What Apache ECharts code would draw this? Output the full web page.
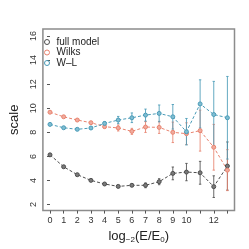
<!DOCTYPE html>
<html><head><meta charset="utf-8">
<script src="https://cdn.jsdelivr.net/npm/echarts@6/dist/echarts.min.js"></script>
<style>html,body{margin:0;padding:0;background:#fff}#c{width:249px;height:249px}</style>
</head><body><div id="c"></div>
<script>
const xValues = [0,1,2,3,4,5,6,7,8,9,10,11,12,13];
const xTickLabels = [0,1,2,3,4,5,6,7,8,9,10,12];
const yTickLabels = [2,4,6,8,10,12,14,16];
const seriesNames = ['full model','Wilks','W\u2013L'];
const fullModel = [6.13,5.14,4.48,4.01,3.71,3.51,3.60,3.60,3.90,4.59,4.70,4.64,3.49,5.20];
const fullModelErr = [0.05,0.05,0.05,0.05,0.06,0.07,0.1,0.2,0.25,0.53,0.72,0.95,0.9,2.0];
const wilks = [9.67,9.29,9.02,8.80,8.47,8.36,8.08,8.44,8.41,8.00,7.89,8.14,6.76,4.86];
const wilksErr = [0.05,0.05,0.06,0.08,0.1,0.25,0.25,0.45,0.5,0.85,0.9,1.7,1.9,1.7];
const wl = [8.66,8.38,8.25,8.36,8.74,9.02,9.21,9.43,9.57,9.29,8.05,10.36,9.48,9.21];
const wlErr = [0.05,0.05,0.06,0.08,0.15,0.3,0.4,0.5,0.7,1.02,1.1,2.0,2.75,3.43];

const colors = ['#4d4d4d','#e8836f','#4a9bb7'];
const fills = ['#7a7a7a','#f0ab9d','#7fbdd2'];
const all = [fullModel, wilks, wl];
const errs = [fullModelErr, wilksErr, wlErr];

const chart = echarts.init(document.getElementById('c'));
const series = [];
all.forEach((vals, i) => {
  series.push({
    type: 'custom', name: seriesNames[i] + '_err', silent: true, z: 2,
    data: xValues.map((x, k) => [x, vals[k] - errs[i][k], vals[k] + errs[i][k]]),
    renderItem: (params, api) => {
      const lo = api.coord([api.value(0), api.value(1)]);
      const hi = api.coord([api.value(0), api.value(2)]);
      const c = 1.2;
      return {type: 'group', children: [
        {type: 'line', shape: {x1: lo[0], y1: lo[1], x2: hi[0], y2: hi[1]}, style: {stroke: colors[i], lineWidth: 1, opacity: 0.85}},
        {type: 'line', shape: {x1: lo[0]-c, y1: lo[1], x2: lo[0]+c, y2: lo[1]}, style: {stroke: colors[i], lineWidth: 1, opacity: 0.85}},
        {type: 'line', shape: {x1: hi[0]-c, y1: hi[1], x2: hi[0]+c, y2: hi[1]}, style: {stroke: colors[i], lineWidth: 1, opacity: 0.85}}
      ]};
    }
  });
  series.push({
    type: 'line', name: seriesNames[i], z: 3,
    data: xValues.map((x, k) => [x, vals[k]]),
    symbol: 'circle', symbolSize: 4,
    lineStyle: {color: colors[i], width: 1, type: [3, 2]},
    itemStyle: {color: fills[i], borderColor: colors[i], borderWidth: 1},
    emphasis: {disabled: true}
  });
});

chart.setOption({
  animation: false,
  textStyle: {fontFamily: 'Liberation Sans, Arial, sans-serif'},
  grid: {left: 36, right: 14.5, top: 29, bottom: 38, show: true, borderColor: '#8c8c8c', borderWidth: 1.5, containLabel: false},
  legend: {
    orient: 'vertical', left: 39, top: 32, itemGap: 0.5, itemWidth: 5, itemHeight: 5,
    textStyle: {fontSize: 10, lineHeight: 10, color: '#222', padding: [0,0,0,2]},
    data: seriesNames.map((n, i) => ({name: n, icon: 'circle', itemStyle: {color: 'transparent', borderColor: colors[i], borderWidth: 1}}))
  },
  xAxis: {
    type: 'value', min: -0.52, max: 13.52,
    splitLine: {show: false},
    axisLine: {show: false},
    axisTick: {show: true, customValues: xValues, length: 3, inside: false, lineStyle: {color: '#555'}},
    axisLabel: {customValues: xTickLabels, fontSize: 9, color: '#333', margin: 5},
    name: '{n|log}{s|\u22122}{n|(E/E}{s|0}{n|)}', nameLocation: 'middle', nameGap: 17,
    nameTextStyle: {rich: {n: {fontSize: 13, color: '#222'}, s: {fontSize: 8, color: '#222', verticalAlign: 'bottom', padding: [8,0,0,0]}}}
  },
  yAxis: {
    type: 'value', min: 1.5, max: 16.58,
    splitLine: {show: false},
    axisLine: {show: false},
    axisTick: {show: true, customValues: yTickLabels, length: 3, lineStyle: {color: '#555'}},
    axisLabel: {customValues: yTickLabels, fontSize: 9, color: '#333', rotate: 90, margin: 5},
    name: 'scale', nameLocation: 'middle', nameGap: 20,
    nameTextStyle: {fontSize: 13, color: '#222'}
  },
  series: series
});
</script></body></html>
